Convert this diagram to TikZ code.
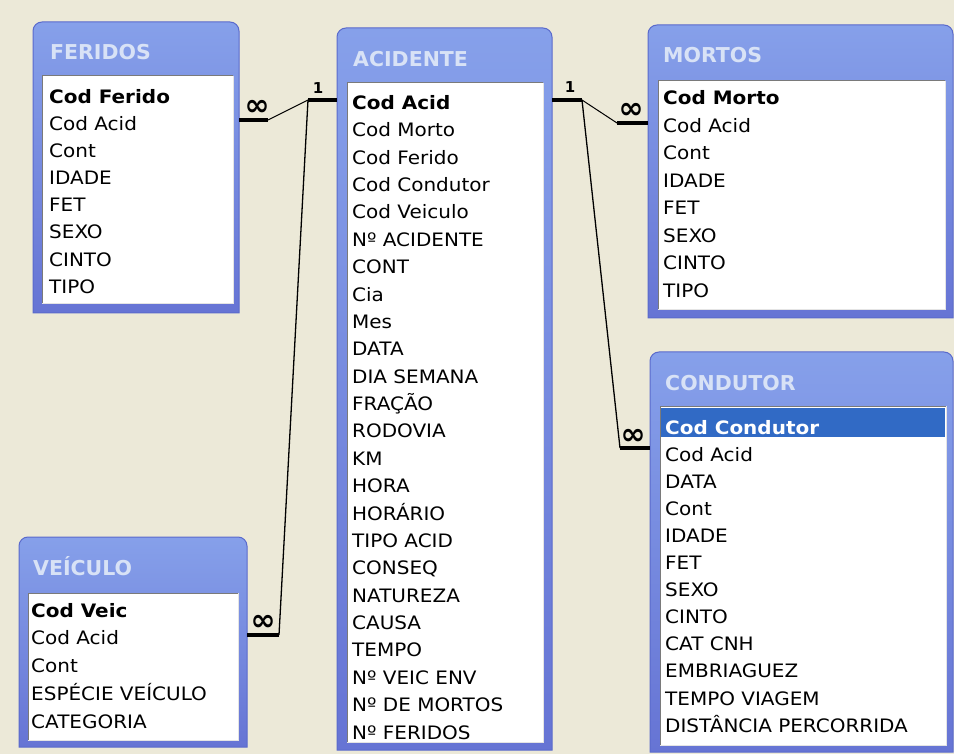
\documentclass[tikz,border=0pt]{standalone}
\usepackage{fontspec}
\setmainfont{DejaVu Sans}
\newfontfamily\rowfont[FakeStretch=1.08]{DejaVu Sans}
\definecolor{bg}{HTML}{ECE9D8}
\definecolor{wintop}{HTML}{86A0EA}
\definecolor{winbot}{HTML}{6674D4}
\definecolor{winedge}{HTML}{5A6ACC}
\definecolor{titlecol}{HTML}{D8E2F6}
\definecolor{listdark}{HTML}{7A7A7A}
\definecolor{listlight}{HTML}{E4E4E4}
\definecolor{sel}{HTML}{316AC5}
\newcommand{\xpwin}[9]{%
  \node[frame, minimum width=#4-#2, minimum height=#5-#3, anchor=north west] (#1) at (#2,#3) {};
  \shadedraw[top color=wintop, bottom color=winbot, draw=winedge, line width=1pt]
    (#1.south west) [rounded corners=9pt] -- (#1.north west) -- (#1.north east) [sharp corners] -- (#1.south east) -- cycle;
  \fill[white] (#6,#7) rectangle (#8,#9);
  \draw[listdark, line width=1pt] (#6,#9) -- (#6,#7) -- (#8,#7);
  \draw[listlight, line width=1pt] (#8,#7) -- (#8,#9) -- (#6,#9);
}
\begin{document}
\begin{tikzpicture}[x=1pt,y=-1pt,
  frame/.style={inner sep=0pt, outer sep=0pt, draw=none},
  rowtext/.style={anchor=base west, inner sep=0pt, font=\rowfont\fontsize{18.5}{20}\selectfont},
  keytext/.style={anchor=base west, inner sep=0pt, font=\rowfont\fontsize{18.5}{20}\selectfont\bfseries},
  titletext/.style={anchor=base west, inner sep=0pt, text=titlecol, font=\fontsize{20.5}{22}\selectfont\bfseries},
  bar/.style={line width=4.5pt},
  link/.style={line width=1.3pt},
  one/.style={font=\fontsize{15}{15}\selectfont\bfseries, inner sep=0pt},
  many/.style={font=\fontsize{30}{30}\selectfont\bfseries, inner sep=0pt},
]
\fill[bg] (0,0) rectangle (954,754);
\useasboundingbox (0,0) rectangle (954,754);

% ---------- FERIDOS ----------
\xpwin{feridos}{33}{22}{239}{313}{42}{76}{233}{304}
\node[titletext] (feridos-title) at (50,60) {FERIDOS};
\node[keytext] (fer-0) at (49,103.3) {Cod Ferido};
\foreach \t [count=\i] in {Cod Acid, Cont, IDADE, FET, SEXO, CINTO, TIPO}
  \node[rowtext] (fer-\i) at (49,103.3+27.14*\i) {\t};

% ---------- ACIDENTE ----------
\xpwin{acidente}{337}{28}{552}{750}{347}{83}{543}{742}
\node[titletext] (acidente-title) at (353,66.5) {ACIDENTE};
\node[keytext] (acid-0) at (352,109.5) {Cod Acid};
\foreach \t [count=\i] in {Cod Morto, Cod Ferido, Cod Condutor, Cod Veiculo, Nº ACIDENTE, CONT, Cia, Mes, DATA, DIA SEMANA, FRAÇÃO, RODOVIA, KM, HORA, HORÁRIO, TIPO ACID, CONSEQ, NATUREZA, CAUSA, TEMPO, Nº VEIC ENV, Nº DE MORTOS, Nº FERIDOS}
  \node[rowtext] (acid-\i) at (352,109.5+27.37*\i) {\t};

% ---------- MORTOS ----------
\xpwin{mortos}{648}{25}{953}{318}{658}{81}{945}{310}
\node[titletext] (mortos-title) at (663,63) {MORTOS};
\node[keytext] (mor-0) at (663,105) {Cod Morto};
\foreach \t [count=\i] in {Cod Acid, Cont, IDADE, FET, SEXO, CINTO, TIPO}
  \node[rowtext] (mor-\i) at (663,105+27.5*\i) {\t};

% ---------- CONDUTOR ----------
\xpwin{condutor}{650}{352}{953}{752}{660}{406}{946}{745}
\node[titletext] (condutor-title) at (665,390) {CONDUTOR};
\fill[sel] (661,408) rectangle (945,437);
\node[keytext, text=white] (con-0) at (665,434) {Cod Condutor};
\foreach \t [count=\i] in {Cod Acid, DATA, Cont, IDADE, FET, SEXO, CINTO, CAT CNH, EMBRIAGUEZ, TEMPO VIAGEM, DISTÂNCIA PERCORRIDA}
  \node[rowtext] (con-\i) at (665,434+27.1*\i) {\t};

% ---------- VEICULO ----------
\xpwin{veiculo}{19}{537}{247}{747}{28}{593}{238}{740}
\node[titletext] (veiculo-title) at (33,575) {VEÍCULO};
\node[keytext] (vei-0) at (31,617) {Cod Veic};
\foreach \t [count=\i] in {Cod Acid, Cont, ESPÉCIE VEÍCULO, CATEGORIA}
  \node[rowtext] (vei-\i) at (31,617+27.75*\i) {\t};

% ---------- connectors ----------
\coordinate (cF)  at (feridos.east |- 0,120);
\coordinate (cF2) at (268,120);
\coordinate (cA1) at (308,100);
\coordinate (cAL) at (acidente.west |- 0,100);
\coordinate (cV2) at (279,635);
\coordinate (cV)  at (veiculo.east |- 0,635);
\coordinate (cAR) at (acidente.east |- 0,100);
\coordinate (cA2) at (582,100);
\coordinate (cM2) at (617,123);
\coordinate (cM)  at (mortos.west |- 0,123);
\coordinate (cC2) at (620,448);
\coordinate (cC)  at (condutor.west |- 0,448);

\draw[bar] (cF) -- (cF2);
\draw[link, line width=1pt] (cF2) -- (cA1);
\draw[bar] (cA1) -- (cAL);
\draw[link] (cA1) -- (cV2);
\draw[bar] (cV2) -- (cV);
\draw[bar] (cAR) -- (cA2);
\draw[link, line width=1pt] (cA2) -- (cM2);
\draw[bar] (cM2) -- (cM);
\draw[link] (cA2) -- (cC2);
\draw[bar] (cC2) -- (cC);

\node[one] (one-fa) at (318,88) {1};
\node[one] (one-am) at (570,87) {1};
\node[many] (many-f) at (257,108) {∞};
\node[many] (many-v) at (263,623) {∞};
\node[many] (many-m) at (631,111) {∞};
\node[many] (many-c) at (633,437) {∞};
\end{tikzpicture}
\end{document}
